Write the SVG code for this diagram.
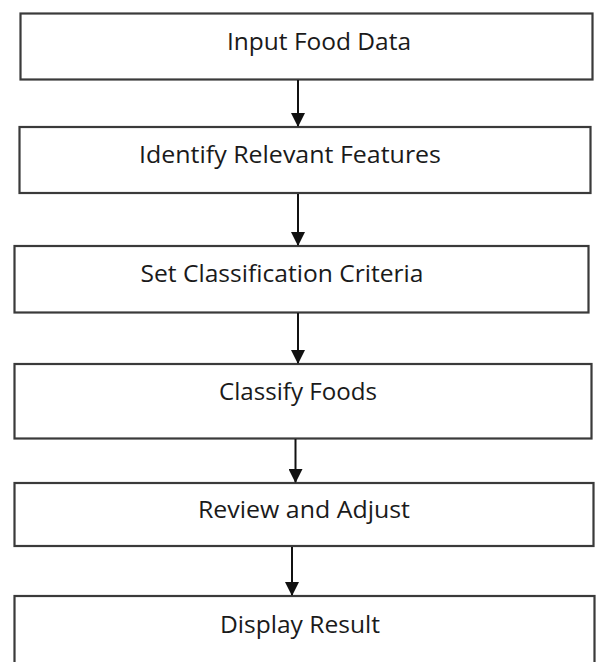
<svg xmlns="http://www.w3.org/2000/svg" width="596" height="662" viewBox="0 0 596 662">
<defs>
<style>
.box{fill:#fff;stroke:#3a3a3a;stroke-width:2.2}
.lbl{font-family:"Open Sans","Liberation Sans",sans-serif;font-size:23px;fill:#1a1a1a;text-anchor:middle}
.conn{stroke:#111;stroke-width:2;fill:none;marker-end:url(#ah)}
</style>
<marker id="ah" markerWidth="14" markerHeight="14" refX="13" refY="7" orient="auto" markerUnits="userSpaceOnUse">
<path d="M0,0 L14,7 L0,14 Z" fill="#111"/>
</marker>
</defs>
<rect width="596" height="662" fill="#fff"/>
<g id="n1"><rect class="box" x="20.5" y="13.5" width="572" height="66"/><text class="lbl" x="319" y="50" textLength="184" lengthAdjust="spacingAndGlyphs">Input Food Data</text></g>
<g id="n2"><rect class="box" x="19.5" y="127" width="571" height="66"/><text class="lbl" x="290" y="163" textLength="302" lengthAdjust="spacingAndGlyphs">Identify Relevant Features</text></g>
<g id="n3"><rect class="box" x="14.5" y="246" width="574" height="66.5"/><text class="lbl" x="282" y="282" textLength="283" lengthAdjust="spacingAndGlyphs">Set Classification Criteria</text></g>
<g id="n4"><rect class="box" x="14.5" y="364" width="577" height="74.5"/><text class="lbl" x="298" y="400" textLength="158" lengthAdjust="spacingAndGlyphs">Classify Foods</text></g>
<g id="n5"><rect class="box" x="14.5" y="483" width="579" height="63"/><text class="lbl" x="304" y="518" textLength="212" lengthAdjust="spacingAndGlyphs">Review and Adjust</text></g>
<g id="n6"><rect class="box" x="14.5" y="596" width="580" height="80"/><text class="lbl" x="300" y="633" textLength="160" lengthAdjust="spacingAndGlyphs">Display Result</text></g>
<g id="connectors">
<line class="conn" x1="298" y1="80" x2="298" y2="126"/>
<line class="conn" x1="298" y1="194" x2="298" y2="245"/>
<line class="conn" x1="298" y1="313" x2="298" y2="363"/>
<line class="conn" x1="295.5" y1="439" x2="295.5" y2="482"/>
<line class="conn" x1="292" y1="547" x2="292" y2="595"/>
</g>
</svg>
